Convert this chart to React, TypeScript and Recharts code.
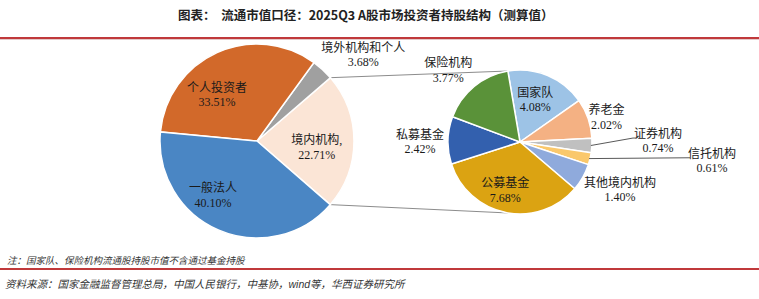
import React from 'react';
import { PieChart, Pie, Cell } from 'recharts';

// 投资者持股结构（流通市值口径，%）
const MAIN_NAMES = ['境内机构', '境外机构和个人', '个人投资者', '一般法人'];
const MAIN_VALUES = [22.71, 3.68, 33.51, 40.1];

// 境内机构拆分（%）
const DOMESTIC_NAMES = ['国家队', '养老金', '证券机构', '信托机构', '其他境内机构', '公募基金', '私募基金', '保险机构'];
const DOMESTIC_VALUES = [4.08, 2.02, 0.74, 0.61, 1.4, 7.68, 2.42, 3.77];

const MAIN_COLORS = ['#FBE5D6', '#A0A0A0', '#D2692A', '#4A86C4'];
const DOMESTIC_COLORS = ['#9DC3E6', '#F4B183', '#C0C0C0', '#FAC86C', '#8FAADC', '#DBA312', '#3360AE', '#5A9239'];

const W = 759;
const H = 299;
const MAIN = { cx: 257, cy: 141, r: 97, start: -41 };
const SUB = { cx: 520, cy: 142, r: 72, start: 99.7 };
const RAD = Math.PI / 180;

const LABEL_FONT = "'Liberation Serif', 'Noto Sans CJK SC', serif";

// 标签位置：r 为外半径倍数，a 为角度（不填则取扇区中线）
type LabelPos = { r: number; a?: number; leader?: { r: number; a: number } };
const MAIN_LABEL_POS: Record<string, LabelPos> = {
    境内机构: { r: 0.62, a: -6 },
    境外机构和个人: { r: 1.41, a: 39 },
    个人投资者: { r: 0.63, a: 131 },
    一般法人: { r: 0.72, a: 231 },
};
const DOMESTIC_LABEL_POS: Record<string, LabelPos> = {
    国家队: { r: 0.62, a: 70 },
    养老金: { r: 1.25, a: 16 },
    证券机构: { r: 1.57, a: 2, leader: { r: 1.57, a: 2 } },
    信托机构: { r: 2.34, a: -5.4, leader: { r: 2.33, a: -5.4 } },
    其他境内机构: { r: 1.54, a: -25.6 },
    公募基金: { r: 0.7, a: -107 },
    私募基金: { r: 1.39, a: 180 },
    保险机构: { r: 1.41, a: 135 },
};

const polar = (cx: number, cy: number, r: number, deg: number) => ({
    x: cx + r * Math.cos(deg * RAD),
    y: cy - r * Math.sin(deg * RAD),
});

function makeLabel(posMap: Record<string, LabelPos>, suffix: Record<string, string> = {}) {
    return (props: any) => {
        const { cx, cy, midAngle, outerRadius, name, value } = props;
        const pos = posMap[name];
        if (!pos) return null;
        let p = polar(cx, cy, outerRadius * pos.r, pos.a ?? midAngle);
        let line = null;
        if (pos.leader) {
            const from = polar(cx, cy, outerRadius - 1, midAngle);
            const elbow = polar(cx, cy, outerRadius * pos.leader.r, pos.leader.a);
            line = (
                <polyline
                    points={`${from.x},${from.y} ${elbow.x},${elbow.y} ${elbow.x + 3},${elbow.y}`}
                    fill="none"
                    stroke="#595959"
                    strokeWidth={1}
                />
            );
            p = { x: elbow.x + 25, y: elbow.y + 3 };
        }
        return (
            <g key={`lbl-${name}`}>
                {line}
                <text x={p.x} y={p.y} textAnchor="middle" fontSize={12} fill="#1a1a1a" fontFamily={LABEL_FONT}>
                    <tspan x={p.x} dy="-0.25em">{name + (suffix[name] ?? '')}</tspan>
                    <tspan x={p.x} dy="1.2em">{`${Number(value).toFixed(2)}%`}</tspan>
                </text>
            </g>
        );
    };
}

const mainData = MAIN_NAMES.map((name, i) => ({ name, value: MAIN_VALUES[i] }));
const domesticData = DOMESTIC_NAMES.map((name, i) => ({ name, value: DOMESTIC_VALUES[i] }));

export default function App() {
    const mainTotal = MAIN_VALUES.reduce((s, v) => s + v, 0);
    const domesticEnd = MAIN.start + (MAIN_VALUES[0] / mainTotal) * 360;

    // 连接线：境内机构扇区两端 → 右侧饼图上下沿
    const topFrom = polar(MAIN.cx, MAIN.cy, MAIN.r, domesticEnd);
    const topTo = polar(SUB.cx, SUB.cy, SUB.r, SUB.start);
    const botFrom = polar(MAIN.cx, MAIN.cy, MAIN.r, MAIN.start);
    const botTo = polar(SUB.cx, SUB.cy, SUB.r, -SUB.start);

    return (
        <div style={{ position: 'relative', width: W, height: H, background: '#fff', overflow: 'hidden' }}>
            <style>{'body{margin:0}'}</style>
            <div
                style={{
                    position: 'absolute', left: 178, top: 5, fontSize: 12.5, fontWeight: 700,
                    fontFamily: "'Noto Sans CJK SC', sans-serif", color: '#222', whiteSpace: 'pre',
                }}
            >
                {'图表：  流通市值口径：2025Q3 A股市场投资者持股结构（测算值）'}
            </div>
            <div style={{ position: 'absolute', left: 0, top: 37, width: W, height: 2, background: '#C0393B' }} />
            <div style={{ position: 'absolute', left: 0, top: 39, width: W, height: 1, background: '#e3c9c9' }} />

            <svg style={{ position: 'absolute', left: 0, top: 0 }} width={W} height={H}>
                <line x1={topFrom.x} y1={topFrom.y} x2={topTo.x} y2={topTo.y} stroke="#8c8c8c" strokeWidth={1} />
                <line x1={botFrom.x} y1={botFrom.y} x2={botTo.x} y2={botTo.y} stroke="#8c8c8c" strokeWidth={1} />
            </svg>

            <div style={{ position: 'absolute', left: 0, top: 0 }}>
                <PieChart width={W} height={H} margin={{ top: 0, right: 0, bottom: 0, left: 0 }}>
                    <Pie
                        data={mainData}
                        dataKey="value"
                        nameKey="name"
                        cx={MAIN.cx}
                        cy={MAIN.cy}
                        outerRadius={MAIN.r}
                        startAngle={MAIN.start}
                        endAngle={MAIN.start + 360}
                        stroke="#fff"
                        strokeWidth={1.5}
                        labelLine={false}
                        label={makeLabel(MAIN_LABEL_POS, { 境内机构: ',' })}
                        isAnimationActive={false}
                    >
                        {mainData.map((_, i) => (
                            <Cell key={i} fill={MAIN_COLORS[i]} />
                        ))}
                    </Pie>
                    <Pie
                        data={domesticData}
                        dataKey="value"
                        nameKey="name"
                        cx={SUB.cx}
                        cy={SUB.cy}
                        outerRadius={SUB.r}
                        startAngle={SUB.start}
                        endAngle={SUB.start - 360}
                        stroke="#fff"
                        strokeWidth={1.5}
                        labelLine={false}
                        label={makeLabel(DOMESTIC_LABEL_POS)}
                        isAnimationActive={false}
                    >
                        {domesticData.map((_, i) => (
                            <Cell key={i} fill={DOMESTIC_COLORS[i]} />
                        ))}
                    </Pie>
                </PieChart>
            </div>

            <div
                style={{
                    position: 'absolute', left: 7, top: 253, fontSize: 9.5, fontStyle: 'italic',
                    fontFamily: "'Noto Sans CJK SC', sans-serif", color: '#333', lineHeight: '14px',
                }}
            >
                注：国家队、保险机构流通股持股市值不含通过基金持股
            </div>
            <div style={{ position: 'absolute', left: 0, top: 268, width: W, height: 2, background: '#C0393B' }} />
            <div
                style={{
                    position: 'absolute', left: 5, top: 277, fontSize: 10.5, fontStyle: 'italic',
                    fontFamily: "'Liberation Sans', 'Noto Sans CJK SC', sans-serif", color: '#333', lineHeight: '15px',
                }}
            >
                资料来源：国家金融监督管理总局，中国人民银行，中基协，wind等，华西证券研究所
            </div>
        </div>
    );
}
